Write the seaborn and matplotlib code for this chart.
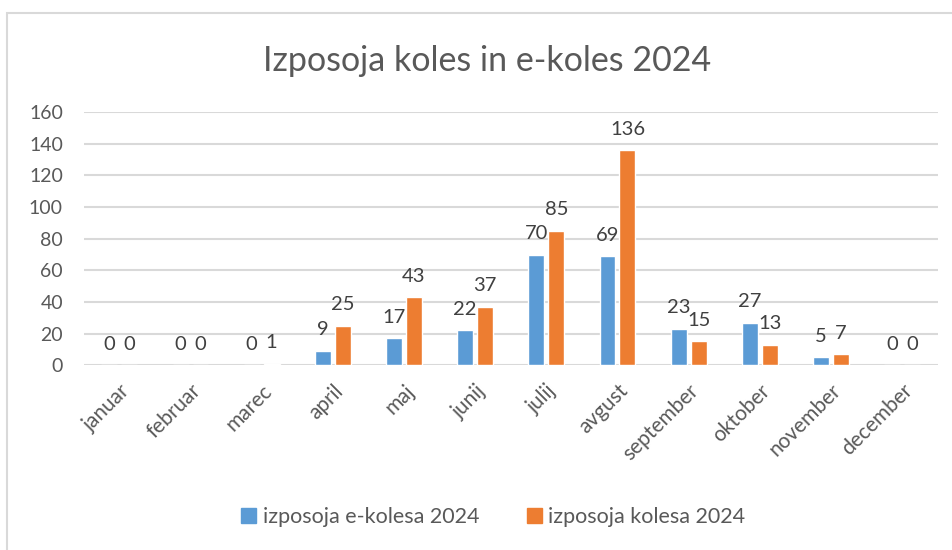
import pandas as pd
import matplotlib.pyplot as plt
import matplotlib.patches as mpatches
import seaborn as sns

# Monthly rentals 2024
months = ["januar", "februar", "marec", "april", "maj", "junij",
          "julij", "avgust", "september", "oktober", "november", "december"]
e_kolesa = [0, 0, 0, 9, 17, 22, 70, 69, 23, 27, 5, 0]
kolesa = [0, 0, 1, 25, 43, 37, 85, 136, 15, 13, 7, 0]
series_names = ["izposoja e-kolesa 2024", "izposoja kolesa 2024"]
colors = ["#5B9BD5", "#ED7D31"]

sns.set_theme(style="white")
plt.rcParams["font.family"] = ["Lato", "DejaVu Sans"]
plt.rcParams["text.color"] = "#404040"

df = pd.DataFrame(
    {
        "mesec": months * 2,
        "vrednost": e_kolesa + kolesa,
        "serija": [series_names[0]] * len(months) + [series_names[1]] * len(months),
    }
)

fig = plt.figure(figsize=(9.52, 5.5), dpi=100)
ax = fig.add_axes([0.088, 0.336, 0.897, 0.46])

sns.barplot(
    data=df,
    x="mesec",
    y="vrednost",
    hue="serija",
    palette=colors,
    width=0.56,
    gap=0.2,
    ax=ax,
    legend=False,
    saturation=1,
)

for cont in ax.containers:
    ax.bar_label(cont, padding=9, fontsize=14.5, color="#404040")

ax.set_ylim(0, 160)
ax.set_xlim(-0.5, len(months) - 0.5)
ax.set_yticks(range(0, 161, 20))
ax.yaxis.grid(True, color="#d9d9d9", linewidth=1.5)
ax.set_axisbelow(True)
for s in ax.spines.values():
    s.set_visible(False)
ax.set_xlabel("")
ax.set_ylabel("")
ax.tick_params(axis="y", length=0, pad=15, labelsize=14, labelcolor="#595959")
ax.tick_params(axis="x", length=0, pad=11, labelsize=15, labelcolor="#595959")
for lab in ax.get_xticklabels():
    lab.set_rotation(45)
    lab.set_ha("right")
    lab.set_rotation_mode("anchor")

fig.suptitle("Izposoja koles in e-koles 2024", x=0.512, y=0.918, fontsize=24.5,
             color="#595959")

handles = [mpatches.Patch(color=c, label=n) for c, n in zip(colors, series_names)]
fig.legend(
    handles=handles,
    loc="center",
    bbox_to_anchor=(0.518, 0.06),
    ncol=2,
    frameon=False,
    fontsize=15.5,
    handlelength=0.7,
    handleheight=0.7,
    handletextpad=0.3,
    columnspacing=2.2,
    labelcolor="#595959",
)

# light chart frame
fig.patches.append(
    mpatches.Rectangle(
        (0.0074, -0.05), 1.1, 1.05 - 0.0245,
        transform=fig.transFigure, fill=False, edgecolor="#d9d9d9", linewidth=1.5,
    )
)

fig.savefig("out.png", dpi=100, facecolor="white")
